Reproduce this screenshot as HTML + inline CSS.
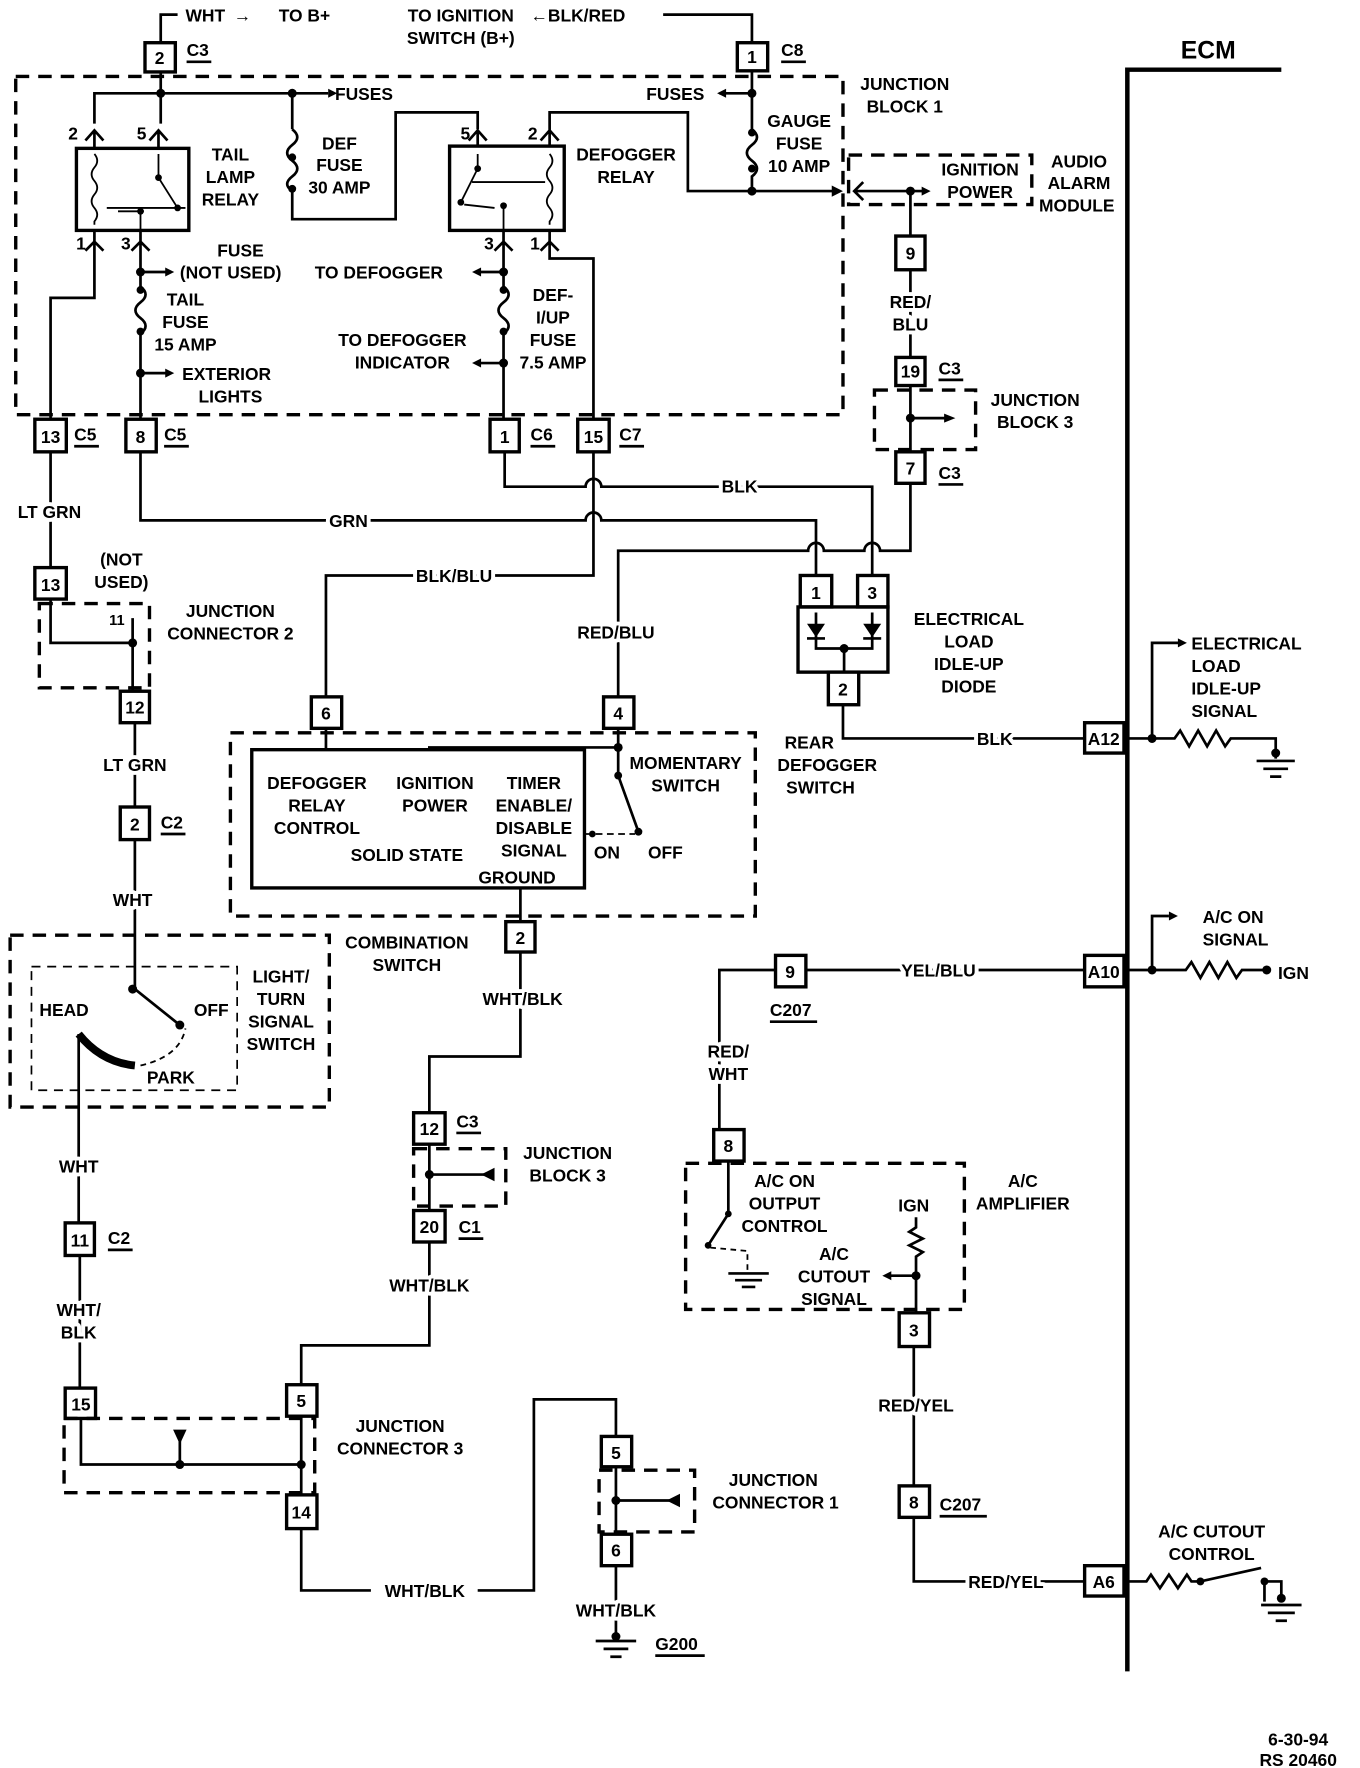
<!DOCTYPE html>
<html><head><meta charset="utf-8"><style>
html,body{margin:0;padding:0;background:#fff;}
svg{display:block;}
text{font-family:"Liberation Sans",sans-serif;font-weight:bold;font-size:15.5px;fill:#000;}
.t{text-anchor:middle;}
.l{paint-order:stroke;stroke:#fff;stroke-width:7px;stroke-linejoin:round;}
.w{fill:none;stroke:#000;stroke-width:2.4;}
.b{fill:#fff;stroke:#000;stroke-width:3;}
.d{fill:none;stroke:#000;stroke-width:3;stroke-dasharray:12,8;}
.th{fill:none;stroke:#000;stroke-width:1.6;}
</style></head><body>
<svg width="1360" height="1768" viewBox="0 0 1210 1573" preserveAspectRatio="none" xmlns="http://www.w3.org/2000/svg">
<!-- ECM -->
<path d="M1003 60 V1487 M1003 62 H1140" stroke="#000" stroke-width="4" fill="none"/>
<text x="1075" y="52" class="t" style="font-size:22px">ECM</text>

<!-- top -->
<path class="w" d="M143 38 V13 H158"/>
<text x="165" y="19">WHT</text><text x="208" y="19">→</text><text x="248" y="19">TO B+</text>
<rect class="b" x="129" y="38" width="27" height="26"/><text x="142" y="57" class="t">2</text>
<text x="166" y="50">C3</text><path class="w" d="M166 55 H188"/>
<text x="410" y="19" class="t">TO IGNITION</text><text x="410" y="39" class="t">SWITCH (B+)</text>
<text x="472" y="19">←BLK/RED</text>
<path class="w" d="M590 13 H669 V38"/>
<rect class="b" x="656" y="38" width="27" height="25"/><text x="669" y="56" class="t">1</text>
<text x="695" y="50">C8</text><path class="w" d="M695 55 H717"/>

<!-- Junction block 1 -->
<rect class="d" x="14" y="68" width="736" height="301"/>
<text x="805" y="80" class="t">JUNCTION</text><text x="805" y="100" class="t">BLOCK 1</text>
<path class="w" d="M143 64 V110 M84 110 V83 H260 H292 M260 83 V115"/>
<circle cx="143" cy="83" r="4"/><circle cx="260" cy="83" r="4"/>
<text x="298" y="89">FUSES</text><polygon points="292,79 300,83 292,87"/>
<!-- tail lamp relay -->
<path class="w" d="M76 125 L84 116 L92 125 M133 125 L141 116 L149 125 M84 116 V132 M141 116 V132"/>
<text x="65" y="124" class="t">2</text><text x="126" y="124" class="t">5</text>
<rect x="68" y="132" width="100" height="73" fill="none" stroke="#000" stroke-width="3"/>
<path class="th" d="M84 137 q5 6 0 12 q-5 6 0 12 q5 6 0 12 q-5 6 0 12 q5 6 0 12 V200 M95 185 H165 M105 188 H128 M141 137 V158 L158 185 M125 188 V205"/>
<circle cx="141" cy="158" r="3"/><circle cx="158" cy="185" r="3"/><circle cx="125" cy="188" r="3"/>
<path class="w" d="M76 223 L84 215 L92 223 M117 223 L125 215 L133 223 M84 205 V265 H45 V373 M125 205 V255"/>
<text x="72" y="222" class="t">1</text><text x="112" y="222" class="t">3</text>
<text x="205" y="143" class="t">TAIL</text><text x="205" y="163" class="t">LAMP</text><text x="205" y="183" class="t">RELAY</text>
<!-- def fuse -->
<path class="w" d="M260 115 q9 7 0 14 q-9 7 0 14 q9 7 0 14 q-9 7 0 13 V195 H352 V100 H425 V115"/>
<circle cx="260" cy="140" r="3.5"/><circle cx="260" cy="168" r="3.5"/>
<text x="302" y="133" class="t">DEF</text><text x="302" y="152" class="t">FUSE</text><text x="302" y="172" class="t">30 AMP</text>
<!-- defogger relay -->
<path class="w" d="M417 125 L425 116 L433 125 M481 125 L489 116 L497 125 M425 116 V130 M489 116 V130 M489 116 V100 H612 V170 H745"/>
<polygon points="740,165 750,170 740,175"/>
<text x="414" y="124" class="t">5</text><text x="474" y="124" class="t">2</text>
<rect x="400" y="130" width="102" height="75" fill="none" stroke="#000" stroke-width="3"/>
<path class="th" d="M489 137 q5 6 0 12 q-5 6 0 12 q5 6 0 12 q-5 6 0 12 q5 6 0 12 V200 M420 162 H485 M425 137 V150 L410 180 M413 182 L440 185 M448 183 V205"/>
<circle cx="425" cy="150" r="3"/><circle cx="410" cy="180" r="3"/><circle cx="448" cy="183" r="3"/>
<path class="w" d="M440 223 L448 215 L456 223 M481 223 L489 215 L497 223 M448 205 V255 M489 205 V230 H528 V373"/>
<text x="435" y="222" class="t">3</text><text x="476" y="222" class="t">1</text>
<text x="557" y="143" class="t">DEFOGGER</text><text x="557" y="163" class="t">RELAY</text>
<!-- gauge -->
<path class="w" d="M669 63 V115 q9 7 0 14 q-9 7 0 14 q9 7 0 14 V170 M669 83 H640"/>
<polygon points="646,79 638,83 646,87"/>
<circle cx="669" cy="83" r="4"/><circle cx="669" cy="118" r="3.5"/><circle cx="669" cy="150" r="3.5"/><circle cx="669" cy="170" r="4"/>
<text x="575" y="89">FUSES</text>
<text x="711" y="113" class="t">GAUGE</text><text x="711" y="133" class="t">FUSE</text><text x="711" y="153" class="t">10 AMP</text>
<!-- audio alarm -->
<rect class="d" x="755" y="138" width="163" height="44"/>
<path class="w" d="M768 162 L760 170 L768 178 M760 170 H825 M810 170 V210"/>
<polygon points="820,166 828,170 820,174"/><circle cx="810" cy="170" r="4"/>
<text x="872" y="156" class="t">IGNITION</text><text x="872" y="176" class="t">POWER</text>
<text x="960" y="149" class="t">AUDIO</text><text x="960" y="168" class="t">ALARM</text><text x="958" y="188" class="t">MODULE</text>
<rect class="b" x="797" y="210" width="26" height="30"/><text x="810" y="231" class="t">9</text>
<path class="w" d="M810 240 V318"/>
<text x="810" y="274" class="t l">RED/</text><text x="810" y="294" class="t l">BLU</text>
<rect class="b" x="797" y="318" width="26" height="25"/><text x="810" y="336" class="t">19</text>
<text x="835" y="333">C3</text><path class="w" d="M835 338 H857"/>
<rect class="d" x="778" y="347" width="90" height="53"/>
<path class="w" d="M810 343 V402 M810 372 H843"/><polygon points="840,368 850,372 840,376"/><circle cx="810" cy="372" r="4"/>
<text x="921" y="361" class="t">JUNCTION</text><text x="921" y="381" class="t">BLOCK 3</text>
<rect class="b" x="797" y="402" width="26" height="28"/><text x="810" y="422" class="t">7</text>
<text x="835" y="426">C3</text><path class="w" d="M835 431 H857"/>

<!-- tail fuse -->
<path class="w" d="M125 242 H150 M125 255 q9 7 0 14 q-9 7 0 14 q9 7 0 14 V373 M125 332 H150"/>
<polygon points="147,238 155,242 147,246"/><polygon points="147,328 155,332 147,336"/>
<circle cx="125" cy="242" r="4"/><circle cx="125" cy="258" r="3.5"/><circle cx="125" cy="295" r="3.5"/><circle cx="125" cy="332" r="4"/>
<text x="214" y="228" class="t">FUSE</text><text x="160" y="248">(NOT USED)</text>
<text x="165" y="272" class="t">TAIL</text><text x="165" y="292" class="t">FUSE</text><text x="165" y="312" class="t">15 AMP</text>
<text x="162" y="338">EXTERIOR</text><text x="205" y="358" class="t">LIGHTS</text>
<!-- def-i/up fuse -->
<path class="w" d="M448 242 H425 M448 255 q9 7 0 14 q-9 7 0 14 q9 7 0 14 V373 M448 323 H425"/>
<polygon points="428,238 420,242 428,246"/><polygon points="428,319 420,323 428,327"/>
<circle cx="448" cy="242" r="4"/><circle cx="448" cy="258" r="3.5"/><circle cx="448" cy="295" r="3.5"/><circle cx="448" cy="323" r="4"/>
<text x="280" y="248">TO DEFOGGER</text>
<text x="358" y="308" class="t">TO DEFOGGER</text><text x="358" y="328" class="t">INDICATOR</text>
<text x="492" y="268" class="t">DEF-</text><text x="492" y="288" class="t">I/UP</text><text x="492" y="308" class="t">FUSE</text><text x="492" y="328" class="t">7.5 AMP</text>

<!-- bottom of JB1 connectors -->
<rect class="b" x="31" y="373" width="28" height="29"/><text x="45" y="394" class="t">13</text>
<text x="66" y="392">C5</text><path class="w" d="M66 397 H88"/>
<rect class="b" x="112" y="373" width="27" height="29"/><text x="125" y="394" class="t">8</text>
<text x="146" y="392">C5</text><path class="w" d="M146 397 H168"/>
<rect class="b" x="436" y="373" width="26" height="29"/><text x="449" y="394" class="t">1</text>
<text x="472" y="392">C6</text><path class="w" d="M472 397 H494"/>
<rect class="b" x="514" y="373" width="28" height="29"/><text x="528" y="394" class="t">15</text>
<text x="551" y="392">C7</text><path class="w" d="M551 397 H573"/>

<!-- mid wires -->
<path class="w" d="M449 402 V433 H521 a7 7 0 0 1 14 0 H776 V512"/>
<text x="658" y="438" class="t l">BLK</text>
<path class="w" d="M125 402 V463 H521 a7 7 0 0 1 14 0 H726 V512"/>
<text x="310" y="469" class="t l">GRN</text>
<path class="w" d="M528 402 V512 H290 V620"/>
<text x="404" y="518" class="t l">BLK/BLU</text>
<path class="w" d="M550 620 V490 H719 a7 7 0 0 1 14 0 H769 a7 7 0 0 1 14 0 H810 V430"/>
<text x="548" y="568" class="t l">RED/BLU</text>
<!-- diode -->
<rect class="b" x="712" y="512" width="28" height="28"/><text x="726" y="533" class="t">1</text>
<rect class="b" x="763" y="512" width="27" height="28"/><text x="776" y="533" class="t">3</text>
<rect x="710" y="540" width="80" height="58" fill="none" stroke="#000" stroke-width="3"/>
<polygon points="718,555 734,555 726,567"/><path class="w" d="M718 568 H734 M726 545 V577 H776 V545 M768 568 H784"/>
<polygon points="768,555 784,555 776,567"/><circle cx="751" cy="577" r="4"/>
<path class="w" d="M751 577 V598"/>
<rect class="b" x="737" y="598" width="27" height="29"/><text x="750" y="619" class="t">2</text>
<path class="w" d="M750 627 V657 H965"/>
<text x="862" y="556" class="t">ELECTRICAL</text><text x="862" y="576" class="t">LOAD</text><text x="862" y="596" class="t">IDLE-UP</text><text x="862" y="616" class="t">DIODE</text>
<text x="885" y="663" class="t l">BLK</text>
<text x="720" y="666" class="t">REAR</text><text x="736" y="686" class="t">DEFOGGER</text><text x="730" y="706" class="t">SWITCH</text>
<rect class="b" x="965" y="643" width="35" height="27"/><text x="982" y="663" class="t">A12</text>
<path class="w" d="M1003 657 H1045 l5 -7 l8 14 l8 -14 l8 14 l8 -14 l8 14 l5 -7 H1135 V675 M1025 657 V572 H1050"/>
<polygon points="1048,568 1056,572 1048,576"/><circle cx="1025" cy="657" r="4"/><circle cx="1135" cy="670" r="4"/>
<path class="w" d="M1118 677 H1152 M1124 684 H1146 M1130 691 H1140"/>
<text x="1060" y="578">ELECTRICAL</text><text x="1060" y="598">LOAD</text><text x="1060" y="618">IDLE-UP</text><text x="1060" y="638">SIGNAL</text>

<!-- left column -->
<path class="w" d="M45 402 V505"/>
<text x="44" y="461" class="t l">LT GRN</text>
<rect class="b" x="31" y="505" width="28" height="28"/><text x="45" y="526" class="t">13</text>
<text x="108" y="503" class="t">(NOT</text><text x="108" y="523" class="t">USED)</text>
<rect class="d" x="35" y="537" width="98" height="75"/>
<path class="w" d="M45 533 V572 H118 V550 M118 572 V615"/><circle cx="118" cy="572" r="4"/>
<text x="104" y="556" class="t" style="font-size:13px">11</text>
<text x="205" y="549" class="t">JUNCTION</text><text x="205" y="569" class="t">CONNECTOR 2</text>
<rect class="b" x="107" y="615" width="26" height="28"/><text x="120" y="635" class="t">12</text>
<path class="w" d="M120 643 V718"/>
<text x="120" y="686" class="t l">LT GRN</text>
<rect class="b" x="107" y="718" width="26" height="29"/><text x="120" y="739" class="t">2</text>
<text x="143" y="737">C2</text><path class="w" d="M143 742 H165"/>
<path class="w" d="M120 747 V880 L160 912"/><text x="118" y="806" class="t l">WHT</text>
<circle cx="118" cy="880" r="4"/><circle cx="160" cy="912" r="4"/>
<rect class="d" x="9" y="832" width="284" height="153"/>
<rect x="28" y="860" width="183" height="110" fill="none" stroke="#000" stroke-width="1.5" stroke-dasharray="8,6"/>
<path d="M70 920 Q90 945 120 948" fill="none" stroke="#000" stroke-width="7"/>
<path class="th" d="M125 948 Q160 940 165 915" stroke-dasharray="5,4"/>
<text x="57" y="904" class="t">HEAD</text><text x="188" y="904" class="t">OFF</text><text x="152" y="964" class="t">PARK</text>
<text x="250" y="874" class="t">LIGHT/</text><text x="250" y="894" class="t">TURN</text><text x="250" y="914" class="t">SIGNAL</text><text x="250" y="934" class="t">SWITCH</text>
<text x="362" y="844" class="t">COMBINATION</text><text x="362" y="864" class="t">SWITCH</text>
<path class="w" d="M70 920 V1088"/><text x="70" y="1043" class="t l">WHT</text>
<rect class="b" x="58" y="1088" width="26" height="29"/><text x="71" y="1109" class="t">11</text>
<text x="96" y="1107">C2</text><path class="w" d="M96 1112 H118"/>
<path class="w" d="M71 1117 V1235"/>
<text x="70" y="1171" class="t l">WHT/</text><text x="70" y="1191" class="t l">BLK</text>
<rect class="b" x="58" y="1235" width="27" height="27"/><text x="72" y="1255" class="t">15</text>
<rect class="d" x="57" y="1262" width="223" height="66"/>
<path class="w" d="M72 1262 V1303 H268 M160 1303 V1275"/><polygon points="154,1272 166,1272 160,1285"/>
<circle cx="160" cy="1303" r="4"/><circle cx="268" cy="1303" r="4"/>
<path class="w" d="M268 1260 V1330"/>
<rect class="b" x="255" y="1232" width="27" height="28"/><text x="268" y="1252" class="t">5</text>
<rect class="b" x="255" y="1330" width="27" height="30"/><text x="268" y="1351" class="t">14</text>
<text x="356" y="1274" class="t">JUNCTION</text><text x="356" y="1294" class="t">CONNECTOR 3</text>
<path class="w" d="M268 1232 V1197 H382 V1105"/>
<text x="382" y="1149" class="t l">WHT/BLK</text>
<rect class="b" x="368" y="1077" width="28" height="28"/><text x="382" y="1097" class="t">20</text>
<text x="408" y="1097">C1</text><path class="w" d="M408 1102 H430"/>
<rect class="d" x="368" y="1022" width="82" height="51"/>
<path class="w" d="M382 1018 V1077 M382 1045 H432"/><polygon points="440,1039 440,1051 428,1045"/><circle cx="382" cy="1045" r="4"/>
<text x="505" y="1031" class="t">JUNCTION</text><text x="505" y="1051" class="t">BLOCK 3</text>
<rect class="b" x="368" y="990" width="28" height="28"/><text x="382" y="1010" class="t">12</text>
<text x="406" y="1003">C3</text><path class="w" d="M406 1008 H428"/>
<path class="w" d="M382 990 V940 H463 V847"/>
<text x="465" y="894" class="t l">WHT/BLK</text>
<path class="w" d="M268 1360 V1415 H330 M425 1415 H475 V1245 H548 V1278"/>
<text x="378" y="1421" class="t">WHT/BLK</text>
<rect class="b" x="535" y="1278" width="27" height="27"/><text x="548" y="1298" class="t">5</text>
<rect class="d" x="533" y="1308" width="85" height="55"/>
<path class="w" d="M548 1305 V1365 M548 1335 H597"/><polygon points="605,1329 605,1341 593,1335"/><circle cx="548" cy="1335" r="4"/>
<text x="688" y="1322" class="t">JUNCTION</text><text x="690" y="1342" class="t">CONNECTOR 1</text>
<rect class="b" x="535" y="1365" width="27" height="28"/><text x="548" y="1385" class="t">6</text>
<path class="w" d="M548 1393 V1460 M530 1460 H566 M537 1467 H559 M543 1474 H553"/>
<circle cx="548" cy="1456" r="4"/>
<text x="548" y="1438" class="t l">WHT/BLK</text>
<text x="583" y="1468">G200</text><path class="w" d="M583 1473 H627"/>

<!-- combination switch module -->
<rect class="d" x="205" y="652" width="467" height="163"/>
<rect class="b" x="224" y="667" width="296" height="123"/>
<rect class="b" x="277" y="620" width="27" height="28"/><text x="290" y="640" class="t">6</text>
<rect class="b" x="537" y="620" width="27" height="28"/><text x="550" y="640" class="t">4</text>
<path class="w" d="M290 648 V667 M550 648 V690 L568 740 M550 665 H382 V667"/>
<path class="th" d="M520 742 H565" stroke-dasharray="6,4"/>
<circle cx="550" cy="665" r="4"/><circle cx="550" cy="690" r="3.5"/><circle cx="568" cy="740" r="3.5"/><circle cx="527" cy="742" r="3"/>
<text x="282" y="702" class="t">DEFOGGER</text><text x="282" y="722" class="t">RELAY</text><text x="282" y="742" class="t">CONTROL</text>
<text x="387" y="702" class="t">IGNITION</text><text x="387" y="722" class="t">POWER</text>
<text x="475" y="702" class="t">TIMER</text><text x="475" y="722" class="t">ENABLE/</text><text x="475" y="742" class="t">DISABLE</text><text x="475" y="762" class="t">SIGNAL</text>
<text x="362" y="766" class="t">SOLID STATE</text><text x="460" y="786" class="t">GROUND</text>
<text x="540" y="764" class="t">ON</text><text x="592" y="764" class="t">OFF</text>
<text x="610" y="684" class="t">MOMENTARY</text><text x="610" y="704" class="t">SWITCH</text>
<path class="w" d="M463 790 V820"/>
<rect class="b" x="450" y="820" width="26" height="27"/><text x="463" y="840" class="t">2</text>

<!-- A/C -->
<rect class="b" x="690" y="850" width="27" height="28"/><text x="703" y="870" class="t">9</text>
<text x="685" y="904">C207</text><path class="w" d="M685 909 H727"/>
<path class="w" d="M717 863 H965 M690 863 H640 V1005"/>
<text x="835" y="869" class="t l">YEL/BLU</text>
<text x="648" y="941" class="t l">RED/</text><text x="648" y="961" class="t l">WHT</text>
<rect class="b" x="965" y="850" width="35" height="28"/><text x="982" y="870" class="t">A10</text>
<path class="w" d="M1003 863 H1055 l5 -7 l8 14 l8 -14 l8 14 l8 -14 l8 14 l5 -7 H1127 M1025 863 V815 H1040"/>
<polygon points="1040,811 1048,815 1040,819"/><circle cx="1025" cy="863" r="4"/><circle cx="1127" cy="863" r="4"/>
<text x="1070" y="821">A/C ON</text><text x="1070" y="841">SIGNAL</text>
<text x="1137" y="871">IGN</text>
<rect class="b" x="635" y="1005" width="27" height="28"/><text x="648" y="1025" class="t">8</text>
<rect class="d" x="610" y="1035" width="248" height="130"/>
<path class="w" d="M648 1033 V1080 L630 1108"/><circle cx="648" cy="1080" r="3"/><circle cx="630" cy="1108" r="3"/>
<path class="th" d="M632 1110 L665 1113 V1130" stroke-dasharray="5,4"/>
<path class="w" d="M648 1133 H684 M654 1139 H678 M660 1145 H672"/>
<text x="698" y="1056" class="t">A/C ON</text><text x="698" y="1076" class="t">OUTPUT</text><text x="698" y="1096" class="t">CONTROL</text>
<text x="813" y="1078" class="t">IGN</text>
<path class="w" d="M815 1083 V1092 l-6 4 l12 6 l-12 6 l12 6 l-6 4 V1168 M815 1135 H790"/>
<polygon points="793,1131 785,1135 793,1139"/><circle cx="815" cy="1135" r="4"/>
<text x="742" y="1121" class="t">A/C</text><text x="742" y="1141" class="t">CUTOUT</text><text x="742" y="1161" class="t">SIGNAL</text>
<text x="910" y="1056" class="t">A/C</text><text x="910" y="1076" class="t">AMPLIFIER</text>
<rect class="b" x="800" y="1168" width="27" height="30"/><text x="813" y="1189" class="t">3</text>
<path class="w" d="M813 1198 V1322"/>
<text x="815" y="1256" class="t l">RED/YEL</text>
<rect class="b" x="800" y="1322" width="27" height="28"/><text x="813" y="1342" class="t">8</text>
<text x="836" y="1344">C207</text><path class="w" d="M836 1349 H878"/>
<path class="w" d="M813 1350 V1407 H965"/>
<text x="895" y="1413" class="t l">RED/YEL</text>
<rect class="b" x="965" y="1393" width="35" height="27"/><text x="982" y="1413" class="t">A6</text>
<path class="w" d="M1003 1407 H1020 l4 -6 l8 12 l8 -12 l8 12 l8 -12 l4 6 H1068 L1122 1395 M1125 1407 V1425 M1125 1407 H1140 V1425"/>
<circle cx="1068" cy="1407" r="3.5"/><circle cx="1125" cy="1407" r="3.5"/><circle cx="1140" cy="1422" r="4"/>
<path class="w" d="M1122 1428 H1158 M1128 1435 H1152 M1135 1442 H1145"/>
<text x="1078" y="1368" class="t">A/C CUTOUT</text><text x="1078" y="1388" class="t">CONTROL</text>

<text x="1155" y="1553" class="t">6-30-94</text><text x="1155" y="1571" class="t">RS 20460</text>
</svg>
</body></html>
